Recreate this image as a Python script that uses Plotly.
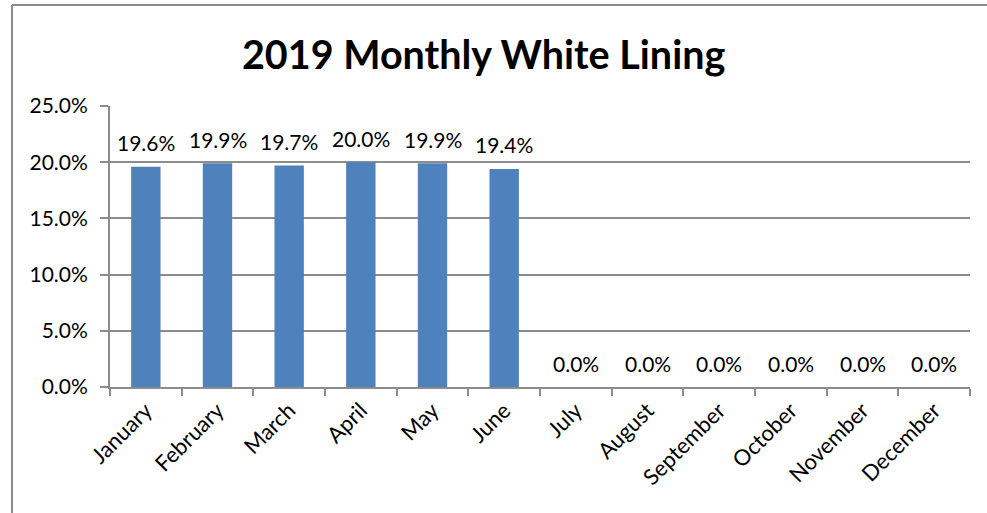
import plotly.graph_objects as go

months = ["January", "February", "March", "April", "May", "June",
          "July", "August", "September", "October", "November", "December"]
white_lining = [0.196, 0.199, 0.197, 0.200, 0.199, 0.194, 0, 0, 0, 0, 0, 0]
y_ticks = [0, 0.05, 0.10, 0.15, 0.20, 0.25]
y_tick_labels = ["0.0%", "5.0%", "10.0%", "15.0%", "20.0%", "25.0%"]

FONT = "Lato, Open Sans, sans-serif"
GRID = "#8c8c8c"

fig = go.Figure(go.Bar(
    x=months, y=white_lining,
    marker=dict(color="#4F81BD", line=dict(width=0)),
    cliponaxis=False,
))

# data labels
for m, v in zip(months, white_lining):
    fig.add_annotation(x=m, y=v, text=f"{v*100:.1f}%", showarrow=False,
                       xanchor="center", yanchor="middle", yshift=24,
                       font=dict(family=FONT, size=21, color="#000000"))

L, R, T, B = 110, 17, 106, 126
W, H = 987, 513
pw, ph = W - L - R, H - T - B

fig.update_layout(
    width=W, height=H,
    margin=dict(l=L, r=R, t=T, b=B, autoexpand=False),
    paper_bgcolor="white", plot_bgcolor="white",
    bargap=0.59,
    showlegend=False,
    title=dict(text="<b>2019 Monthly White Lining</b>", x=0.49, xanchor="center",
               y=1 - 55 / H, yanchor="middle",
               font=dict(family=FONT, size=39.5, color="#000000")),
    font=dict(family=FONT, size=21, color="#000000"),
)
fig.update_xaxes(
    type="category", tickangle=-45, tickson="boundaries",
    ticks="outside", ticklen=7, tickcolor=GRID, tickwidth=2,
    showline=True, linecolor=GRID, linewidth=2, automargin=False,
    showgrid=False, tickfont=dict(family=FONT, size=22, color="#000000"),
)
fig.update_yaxes(
    range=[0, 0.25], tickvals=y_ticks, ticktext=y_tick_labels,
    ticks="outside", ticklen=8, tickcolor=GRID, tickwidth=2,
    showline=True, linecolor=GRID, linewidth=2, automargin=False,
    showgrid=True, gridcolor=GRID, gridwidth=1.5, zeroline=False,
    ticklabelstandoff=8,
    tickfont=dict(family=FONT, size=21, color="#000000"),
)
# outer chart frame (left and top edges)
fig.add_shape(type="line", xref="paper", yref="paper",
              x0=(12 - L) / pw, x1=(12 - L) / pw, y0=(T - H) / ph, y1=1 + (T - 5) / ph,
              line=dict(color=GRID, width=2))
fig.add_shape(type="line", xref="paper", yref="paper",
              x0=(12 - L) / pw, x1=1 + R / pw, y0=1 + (T - 5) / ph, y1=1 + (T - 5) / ph,
              line=dict(color=GRID, width=2))

fig.write_html("out.html", config={"displayModeBar": False},
               post_script="document.body.style.margin='0px';document.body.style.overflow='hidden';")
